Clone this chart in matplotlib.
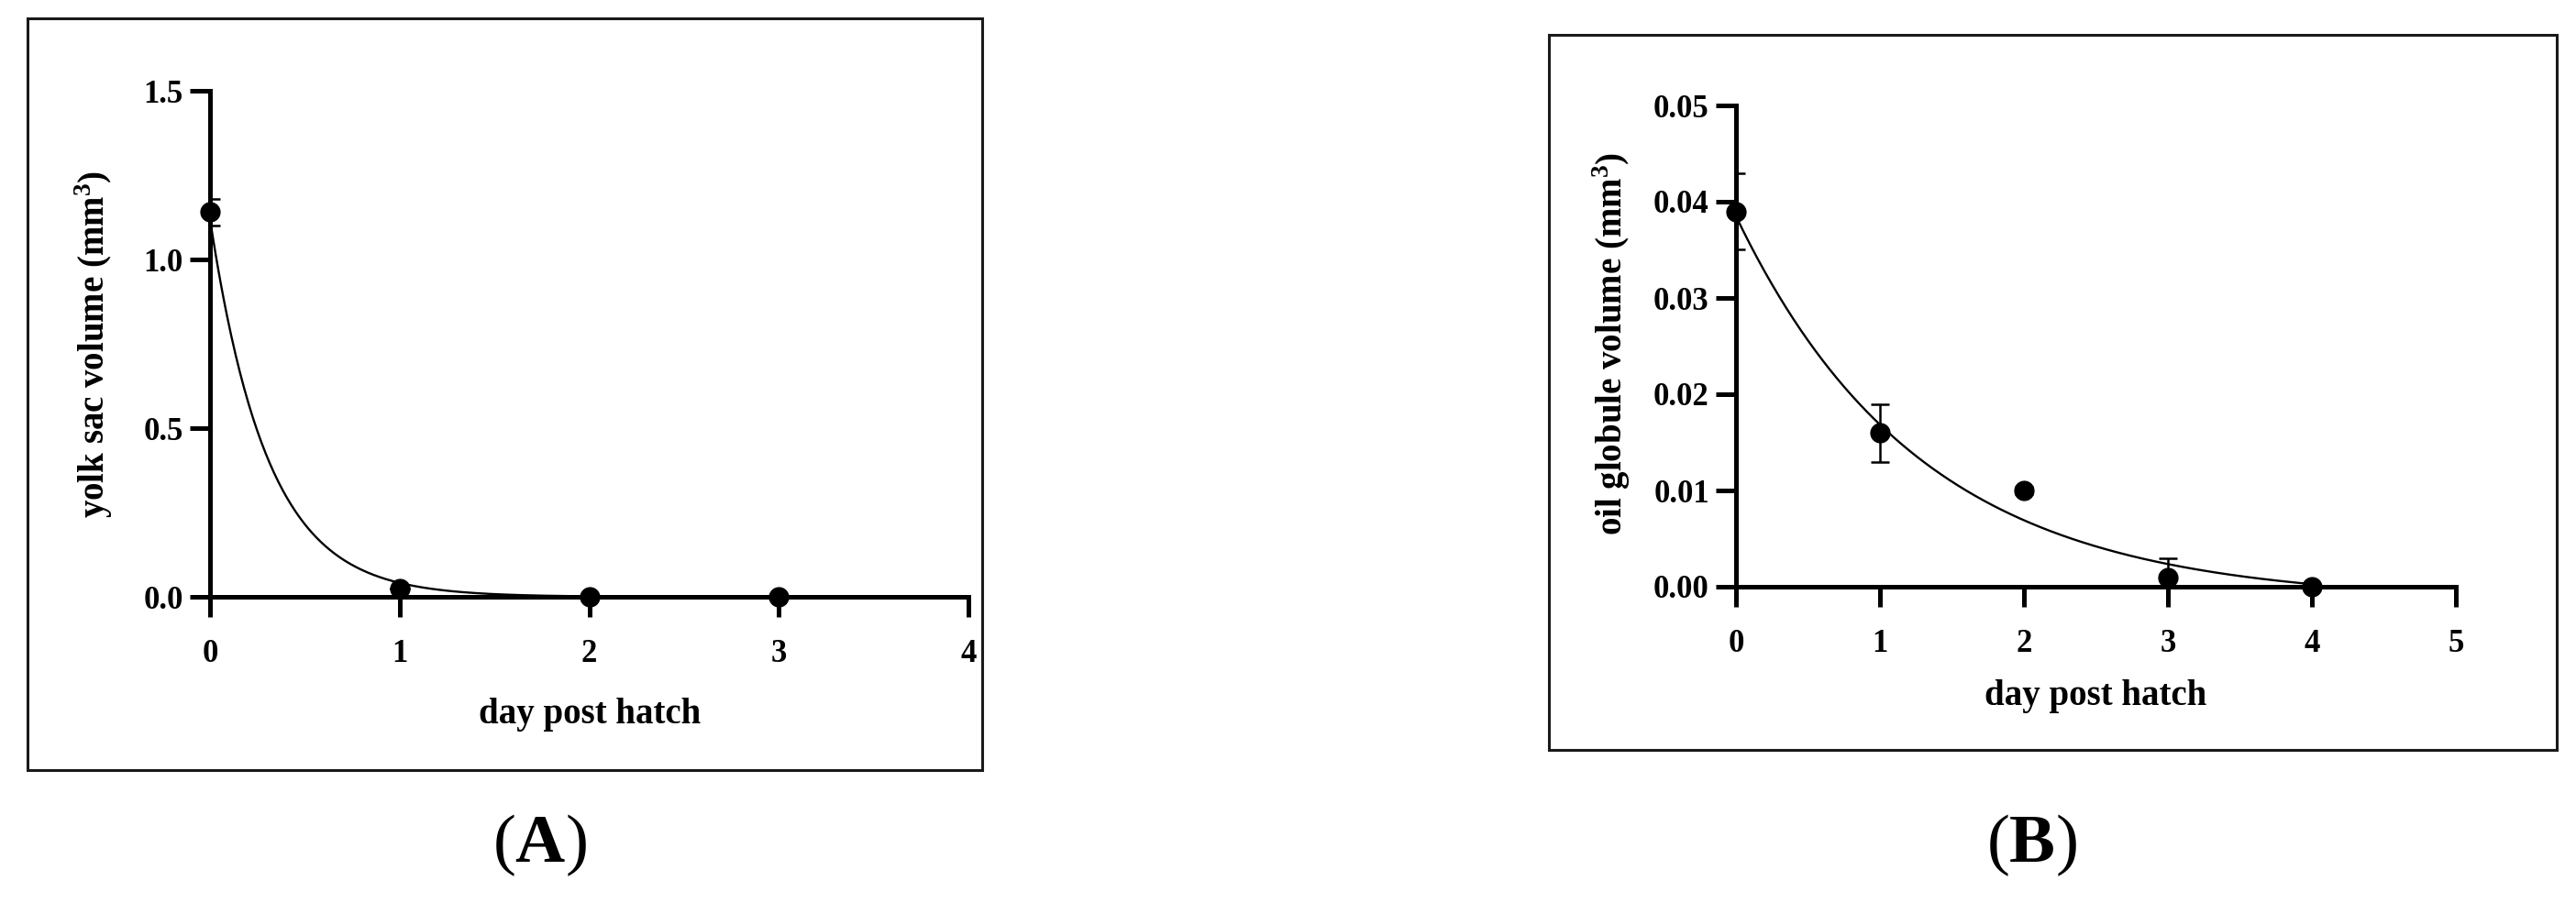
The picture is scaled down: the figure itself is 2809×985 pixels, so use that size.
import numpy as np
import matplotlib
matplotlib.use("Agg")
import matplotlib.pyplot as plt
from matplotlib.patches import Rectangle

# ---------------- data ----------------
days_a = [0, 1, 2, 3]
yolk_mean = [1.14, 0.025, 0.0, 0.0]
yolk_sem = [0.04, 0.0, 0.0, 0.0]
yolk_fit_y0 = 1.12      # one-phase decay fit (A)
yolk_fit_k = 3.3
yolk_fit_plateau = 0.0

days_b = [0, 1, 2, 3, 4]
oil_mean = [0.039, 0.016, 0.010, 0.001, 0.0]
oil_sem = [0.004, 0.003, 0.0004, 0.002, 0.0]
oil_fit_span = 0.040    # one-phase decay fit (B)
oil_fit_k = 0.78
oil_fit_plateau = -0.0015

xticks_a = [0, 1, 2, 3, 4]
yticks_a = [0.0, 0.5, 1.0, 1.5]
yticklabels_a = ["0.0", "0.5", "1.0", "1.5"]
xticks_b = [0, 1, 2, 3, 4, 5]
yticks_b = [0.00, 0.01, 0.02, 0.03, 0.04, 0.05]
yticklabels_b = ["0.00", "0.01", "0.02", "0.03", "0.04", "0.05"]

xlabel = "day post hatch"
ylabel_a = r"yolk sac volume (mm$^{\mathbf{3}}$)"
ylabel_b = r"oil globule volume (mm$^{\mathbf{3}}$)"

# ---------------- style ----------------
W, H = 2809, 985
DPI = 100
plt.rcParams["font.family"] = ["Liberation Serif", "DejaVu Serif"]
plt.rcParams["font.weight"] = "bold"
plt.rcParams["mathtext.fontset"] = "custom"
plt.rcParams["mathtext.rm"] = "Liberation Serif"
plt.rcParams["mathtext.bf"] = "Liberation Serif:bold"

fig = plt.figure(figsize=(W / DPI, H / DPI), dpi=DPI)


def fx(px):
    return px / W


def fy(py):
    return 1 - py / H


def axes_px(left, top, right, bottom):
    return fig.add_axes([fx(left), fy(bottom), (right - left) / W, (bottom - top) / H])


# panel frames
for (l, t, r, b) in [(30, 20, 1071, 840), (1689, 38, 2788, 818)]:
    fig.patches.append(Rectangle((fx(l), fy(b)), (r - l) / W, (b - t) / H,
                                 transform=fig.transFigure, fill=False,
                                 edgecolor="#1a1a1a", linewidth=2.2))

TICK_FS = 25
LABEL_FS = 28


def style_axes(ax):
    for s in ["top", "right"]:
        ax.spines[s].set_visible(False)
    for s in ["left", "bottom"]:
        ax.spines[s].set_linewidth(3.6)
        ax.spines[s].set_color("black")
        ax.spines[s].set_capstyle("projecting")
    ax.tick_params(axis="both", direction="out", length=16, width=3.6,
                   labelsize=TICK_FS, colors="black")
    ax.tick_params(axis="x", pad=17)
    ax.tick_params(axis="y", pad=5)
    for lab in ax.get_xticklabels() + ax.get_yticklabels():
        lab.set_fontweight("bold")
    ax.set_facecolor("none")


# ---------------- panel A ----------------
axA = axes_px(229, 99, 1056, 651)
xs = np.linspace(0, 3, 400)
axA.plot(xs, (yolk_fit_y0 - yolk_fit_plateau) * np.exp(-yolk_fit_k * xs) + yolk_fit_plateau,
         color="black", lw=1.7, zorder=3)
axA.errorbar(days_a, yolk_mean, yerr=yolk_sem, fmt="none", ecolor="black",
             elinewidth=1.8, capsize=8, capthick=1.8, zorder=4)
axA.plot(days_a, yolk_mean, "o", color="black", ms=15, clip_on=False, zorder=5)
axA.set_xlim(0, 4)
axA.set_ylim(0, 1.5)
axA.set_xticks(xticks_a)
axA.set_yticks(yticks_a)
axA.set_yticklabels(yticklabels_a)
style_axes(axA)

# ---------------- panel B ----------------
axB = axes_px(1893, 115, 2678, 640)
xs = np.linspace(0, 4, 400)
axB.plot(xs, oil_fit_span * np.exp(-oil_fit_k * xs) + oil_fit_plateau,
         color="black", lw=1.7, zorder=3)
axB.errorbar(days_b, oil_mean, yerr=oil_sem, fmt="none", ecolor="black",
             elinewidth=1.8, capsize=7.5, capthick=1.8, zorder=4)
axB.plot(days_b, oil_mean, "o", color="black", ms=15, clip_on=False, zorder=5)
axB.set_xlim(0, 5)
axB.set_ylim(0, 0.05)
axB.set_xticks(xticks_b)
axB.set_yticks(yticks_b)
axB.set_yticklabels(yticklabels_b)
style_axes(axB)

# ---------------- labels ----------------
fig.text(fx(643), fy(780), xlabel, ha="center", va="center", fontsize=LABEL_FS, fontweight="bold")
fig.text(fx(2285), fy(760), xlabel, ha="center", va="center", fontsize=LABEL_FS, fontweight="bold")
fig.text(fx(102), fy(375), ylabel_a, rotation=90, ha="center", va="center",
         fontsize=LABEL_FS, fontweight="bold")
fig.text(fx(1757), fy(375), ylabel_b, rotation=90, ha="center", va="center",
         fontsize=LABEL_FS, fontweight="bold")

# panel letters: regular parentheses, bold letter
for cx, letter in [(588, "A"), (2215, "B")]:
    fig.text(fx(cx), fy(940), "(" + r"$\mathbf{" + letter + "}$" + ")",
             ha="center", va="baseline", fontsize=54, fontweight="normal")

fig.savefig("out.png", dpi=DPI, facecolor="white")
